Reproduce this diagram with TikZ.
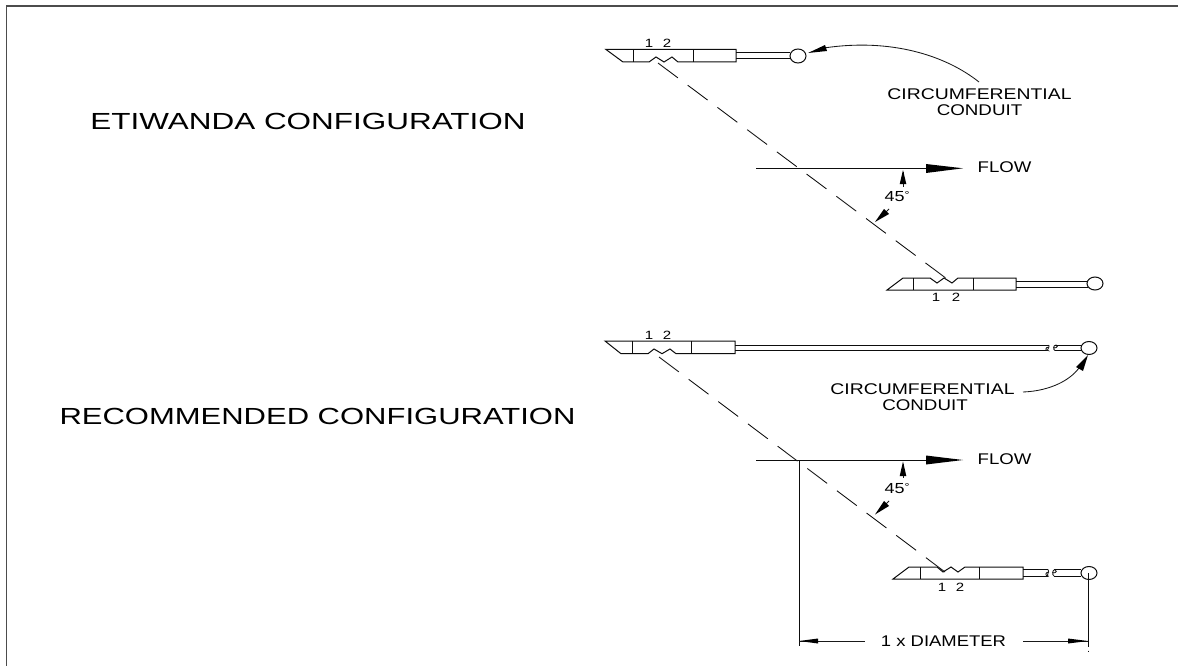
\documentclass[tikz,border=0pt]{standalone}
\usepackage{fontspec}
\setmainfont{Liberation Sans}
\newcommand{\wide}[2]{\scalebox{#1}[1]{#2}}
\newcommand{\fortyfive}{\wide{1.23}{45\raisebox{3pt}{\fontsize{10}{10}\selectfont\textdegree}}}
\tikzset{
  x=1pt,y=-1pt,
  ln/.style={line width=1pt,black!95},
  thin ln/.style={line width=0.85pt,black!90},
  dsh/.style={line width=0.85pt,black!95,dash pattern=on 24.8pt off 12.3pt},
  big/.style={font=\fontsize{23.3}{24}\selectfont,inner sep=0pt},
  mid/.style={font=\fontsize{15.5}{16}\selectfont,inner sep=0pt},
  ang/.style={font=\fontsize{14.6}{15}\selectfont,inner sep=0pt},
  sm/.style={font=\fontsize{12}{12}\selectfont,inner sep=0pt},
}
\begin{document}
\begin{tikzpicture}
\useasboundingbox (0,0) rectangle (1178,666);
\fill[white] (0,0) rectangle (1178,666);
% frame
\draw[line width=1.2pt,black!70] (6.5,666) -- (6.5,6) -- (1178,6);

% --- top jack
\draw[ln] (606,49.5) -- (736,49.5) -- (736,62) -- (678,62) -- (672,57) -- (664,62) -- (656,57) -- (649,62) -- (623,62) -- cycle;
\draw[ln] (633,49.5) -- (633,62) (693,49.5) -- (693,62);
\draw[ln] (736,53) -- (790,53) (736,59) -- (790,59);
\draw[ln] (798,56) ellipse [x radius=8,y radius=7];
\node[sm] (t1) at (649,43) {\wide{1.25}{1}};
\node[sm] (t2) at (667,43) {\wide{1.25}{2}};

% --- top labels
\node[big] (etiwanda) at (308,121.5) {\wide{1.35}{ETIWANDA CONFIGURATION}};
\node[mid] (circA) at (979.5,94) {\wide{1.25}{CIRCUMFERENTIAL}};
\node[mid] (condA) at (979.5,110) {\wide{1.21}{CONDUIT}};
\node[mid] (flowA) at (1004.5,167) {\wide{1.2}{FLOW}};
\node[ang] (angA) at (897,197) {\fortyfive};

% curved arrow
\draw[thin ln] (979,82) .. controls (945,55) and (890,38) .. (824,48);
\fill[black] (808,53) -- (825,45) -- (827,51) -- cycle;

% dashed
\draw[dsh] (658,63) -- (947,279);

% flow
\draw[ln] (756,168.3) -- (930,168.3);
\fill[black] (963,168.3) -- (926,164) -- (926,173) -- cycle;
\draw[thin ln] (903,172) -- (903,187);
\fill[black] (903,170) -- (899.7,184) -- (906.3,184) -- cycle;
\draw[thin ln] (889,209) -- (880,218);
\fill[black] (875,222) -- (884,209) -- (889,214) -- cycle;

% --- mid jack
\draw[ln] (887,290) -- (903,278) -- (930,278) -- (937,283) -- (944,278) -- (952,283) -- (958,278)
  -- (1016,278) -- (1016,290) -- cycle;
\draw[ln] (913,278) -- (913,290) (973,278) -- (973,290);
\draw[ln] (1016,281) -- (1088,281) (1016,287) -- (1088,287);
\draw[ln] (1095,283.5) ellipse [x radius=8,y radius=6.5];
\node[sm] (m1) at (936,297) {\wide{1.25}{1}};
\node[sm] (m2) at (956,297) {\wide{1.25}{2}};

% --- recommended jack
\draw[ln] (605,341) -- (735,341) -- (735,353.7) -- (676,353.7) -- (670,349) -- (662,353.7)
  -- (654,349) -- (648,353.7) -- (621,353.7) -- cycle;
\draw[ln] (632,341) -- (632,353.7) (691,341) -- (691,353.7);
\draw[ln] (735,345) -- (1049,345) (735,350.5) -- (1048,350.5);
\draw[thin ln] (1049,345) .. controls (1050,347) and (1046,351) .. (1048,350.5) .. controls (1045,351) and (1045,347) .. (1049,347);
\draw[thin ln] (1055,350.5) .. controls (1053,350) and (1053,345) .. (1056,345) .. controls (1058,345) and (1058,348) .. (1054,348);
\draw[ln] (1055,345) -- (1082,345) (1055,350.5) -- (1082,350.5);
\draw[ln] (1089,348) ellipse [x radius=8,y radius=6.5];
\node[sm] (r1) at (649,335) {\wide{1.25}{1}};
\node[sm] (r2) at (667,335) {\wide{1.25}{2}};

% --- recommended labels
\node[big] (recom) at (317.5,416.5) {\wide{1.33}{RECOMMENDED CONFIGURATION}};
\node[mid] (circB) at (922.5,389) {\wide{1.25}{CIRCUMFERENTIAL}};
\node[mid] (condB) at (925,405) {\wide{1.21}{CONDUIT}};
\node[mid] (flowB) at (1004.5,459) {\wide{1.2}{FLOW}};
\node[ang] (angB) at (897,489) {\fortyfive};
\node[mid] (dia) at (943.5,641) {\wide{1.19}{1 x DIAMETER}};

% curved arrow
\draw[thin ln] (1023,392) .. controls (1050,391) and (1072,380) .. (1081,365);
\fill[black] (1088,355) -- (1076,367) -- (1083,371) -- cycle;

% dashed
\draw[dsh] (659,357) -- (945,572);

% flow
\draw[ln] (756,460) -- (930,460);
\fill[black] (963,460) -- (926,455.5) -- (926,464.5) -- cycle;
\draw[thin ln] (903,464) -- (903,478);
\fill[black] (903,461.5) -- (899.7,476) -- (906.3,476) -- cycle;
\draw[thin ln] (889,501) -- (880,510);
\fill[black] (875,514.5) -- (884,501) -- (889,506) -- cycle;

% --- lower jack
\draw[ln] (893,579) -- (909,567) -- (937,567) -- (943,572) -- (951,567) -- (958,572) -- (965,567)
  -- (1023,567) -- (1023,579) -- cycle;
\draw[ln] (920,567) -- (920,579) (979,567) -- (979,579);
\draw[ln] (1023,569.5) -- (1048,569.5) (1023,576) -- (1048,576);
\draw[thin ln] (1048,569.5) .. controls (1050,571) and (1046,576) .. (1048,576) .. controls (1045,576) and (1045,572) .. (1049,572);
\draw[thin ln] (1054,576) .. controls (1052,575) and (1052,570) .. (1055,569.5) .. controls (1057,570) and (1057,573) .. (1053,573);
\draw[ln] (1054,569.5) -- (1081,569.5) (1054,576) -- (1081,576);
\draw[ln] (1089,573) ellipse [x radius=8,y radius=6.5];
\node[sm] (l1) at (942,587) {\wide{1.25}{1}};
\node[sm] (l2) at (960,587) {\wide{1.25}{2}};

% dimension
\draw[ln] (799,460) -- (799,646);
\draw[ln] (1088.5,573) -- (1088.5,646.5);
\draw[ln] (1088.5,650.5) -- (1088.5,651.5);
\draw[thin ln] (799,641) -- (865,641);
\fill[black] (799,641) -- (818,638.5) -- (818,643.5) -- cycle;
\draw[thin ln] (1023,641) -- (1088,641);
\fill[black] (1088,641) -- (1068,638.5) -- (1068,643.5) -- cycle;
\end{tikzpicture}
\end{document}
